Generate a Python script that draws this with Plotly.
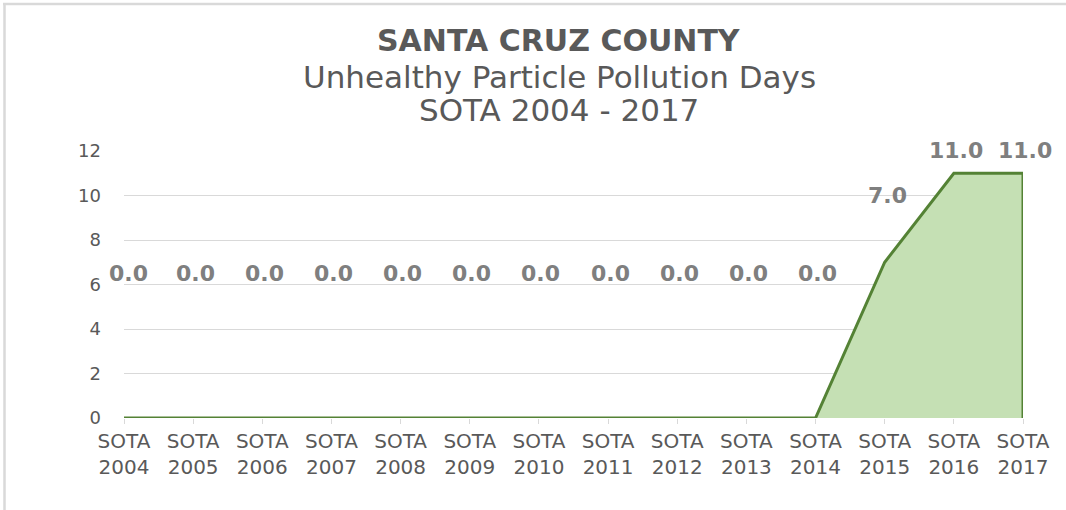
import plotly.graph_objects as go

years = [str(y) for y in range(2004, 2018)]
categories = ["SOTA " + y for y in years]
tick_labels = ["SOTA<br>" + y for y in years]
values = [0, 0, 0, 0, 0, 0, 0, 0, 0, 0, 0, 7, 11, 11]

title_lines = ["SANTA CRUZ COUNTY", "Unhealthy Particle Pollution Days", "SOTA 2004 - 2017"]

FONT = "DejaVu Sans, Verdana, sans-serif"
GREY = "#595959"

W, H = 1066, 510
ml, mr, mt, mb = 124, 43, 151, 92


def px(x):
    return (x - ml) / (W - ml - mr)


def py(y):
    return (H - mb - y) / (H - mt - mb)


fig = go.Figure()

# closed polygon so the right edge is outlined like the original
fig.add_trace(go.Scatter(
    x=categories + [categories[-1]],
    y=values + [0],
    mode="lines",
    fill="toself",
    fillcolor="#c5e0b4",
    line=dict(color="#548235", width=3),
    hoverinfo="skip",
    showlegend=False,
))


def label_shift(v):
    if v == 0:
        return 145
    if v < 10:
        return 67
    return 23


for c, v in zip(categories, values):
    fig.add_annotation(
        x=c, y=v, xref="x", yref="y",
        text="<b>%.1f</b>" % v,
        showarrow=False,
        yshift=label_shift(v),
        xshift=4 if c == categories[0] else (3 if v == 7 else 2),
        font=dict(family=FONT, size=22, color="#7f7f7f"),
    )

title_y = [40, 77, 110]
title_size = [30, 31, 31]
for i, t in enumerate(title_lines):
    fig.add_annotation(
        x=px(559), y=py(title_y[i]), xref="paper", yref="paper",
        text=("<b>%s</b>" % t) if i == 0 else t,
        showarrow=False,
        font=dict(family=FONT, size=title_size[i], color=GREY),
        xanchor="center", yanchor="middle",
    )

fig.update_layout(
    width=W, height=H,
    margin=dict(l=ml, r=mr, t=mt, b=mb),
    paper_bgcolor="white",
    plot_bgcolor="white",
    font=dict(family=FONT, color=GREY, size=18),
    xaxis=dict(
        type="category",
        categoryorder="array",
        categoryarray=categories,
        tickvals=categories,
        ticktext=tick_labels,
        range=[0, len(categories) - 1],
        showgrid=False,
        zeroline=False,
        showline=False,
        ticks="outside",
        ticklen=5,
        tickcolor="#d9d9d9",
        tickfont=dict(family=FONT, size=20, color=GREY),
        fixedrange=True,
    ),
    yaxis=dict(
        range=[0, 12],
        tickvals=[0, 2, 4, 6, 8, 10, 12],
        showgrid=True,
        gridcolor="#d9d9d9",
        gridwidth=1,
        zeroline=False,
        showline=False,
        ticks="",
        ticklabelstandoff=22,
        tickfont=dict(family=FONT, size=18, color=GREY),
        fixedrange=True,
    ),
    shapes=[
        dict(type="line", xref="paper", yref="paper",
             x0=px(4.5), x1=px(4.5), y0=py(H + 5), y1=py(3),
             line=dict(color="#d9d9d9", width=2.5)),
        dict(type="line", xref="paper", yref="paper",
             x0=px(3), x1=px(W + 5), y0=py(4), y1=py(4),
             line=dict(color="#d9d9d9", width=2.5)),
    ],
)

fig.write_html("out.html", config={"displayModeBar": False},
               post_script="document.body.style.margin='0';")
